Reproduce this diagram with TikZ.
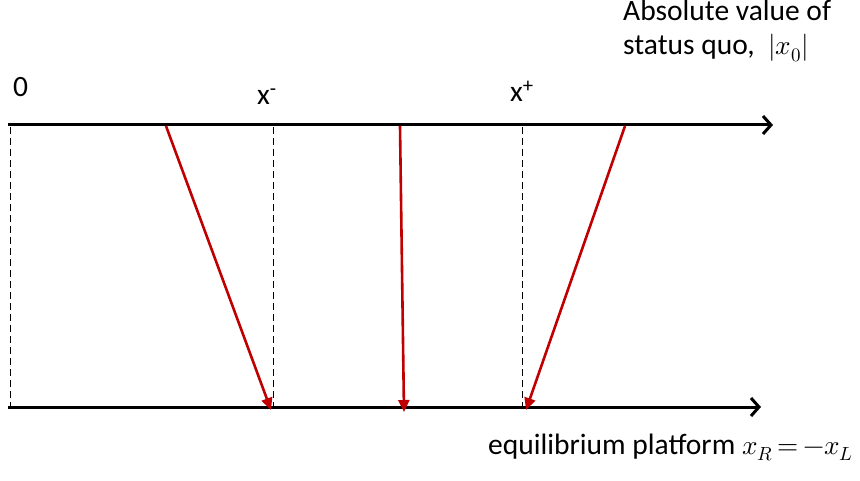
\documentclass[tikz,border=0pt]{standalone}
\usepackage{fontspec}
\usepackage{unicode-math}
\setmainfont{Carlito}
\setmathfont{Latin Modern Math}[Scale=0.92]
\usetikzlibrary{arrows.meta,positioning}
\definecolor{shiftred}{RGB}{192,0,0}

\begin{document}
\begin{tikzpicture}[
  x=1pt, y=-1pt,
  font=\fontsize{29.5}{34}\selectfont,
  axis/.style={line width=3pt, -{Straight Barb[length=8pt,width=18pt]}},
  move/.style={line width=2.6pt, draw=shiftred, -{Triangle[length=12pt,width=11pt]}},
  guide/.style={line width=1pt, dash pattern=on 7pt off 4pt},
  lbl/.style={inner sep=0pt, anchor=base west}
]
\useasboundingbox (0,0) rectangle (860,481);

% the two axes
\coordinate (topL) at (8,125);
\coordinate (topR) at (773,125);
\coordinate (botL) at (8,407);
\coordinate (botR) at (761,407);
\draw[axis] (topL) -- (topR);
\draw[axis] (botL) -- (botR);

% guide lines
\coordinate (zeroT) at (10,127);
\coordinate (zeroB) at (10,407);
\coordinate (minT) at (273,127);
\coordinate (minB) at (273,407);
\coordinate (plusT) at (522,127);
\coordinate (plusB) at (522,407);
\draw[guide] (zeroT) -- (zeroB);
\draw[guide] (minT) -- (minB);
\draw[guide] (plusT) -- (plusB);

% labels
\node[lbl] (zero) at (13,97) {0};
\node[lbl] (xminus) at (257,105) {x\textsuperscript{-}};
\node[lbl] (xplus) at (510,102) {x\textsuperscript{+}};
\node[inner sep=0pt, anchor=north west, align=left] (status) at (623,0)
  {Absolute value of\\status quo,~~$|x_0|$};
\node[lbl] (platform) at (488,454)
  {equilibrium platform $\thickmuskip=3mu x_R=-x_L$};

% moves to the platform
\coordinate (s1) at (166,126);
\coordinate (e1) at (271,410);
\coordinate (s2) at (400,126);
\coordinate (e2) at (404,412);
\coordinate (s3) at (625,126);
\coordinate (e3) at (526,410);
\draw[move] (s1) -- (e1);
\draw[move] (s2) -- (e2);
\draw[move] (s3) -- (e3);

\end{tikzpicture}
\end{document}
